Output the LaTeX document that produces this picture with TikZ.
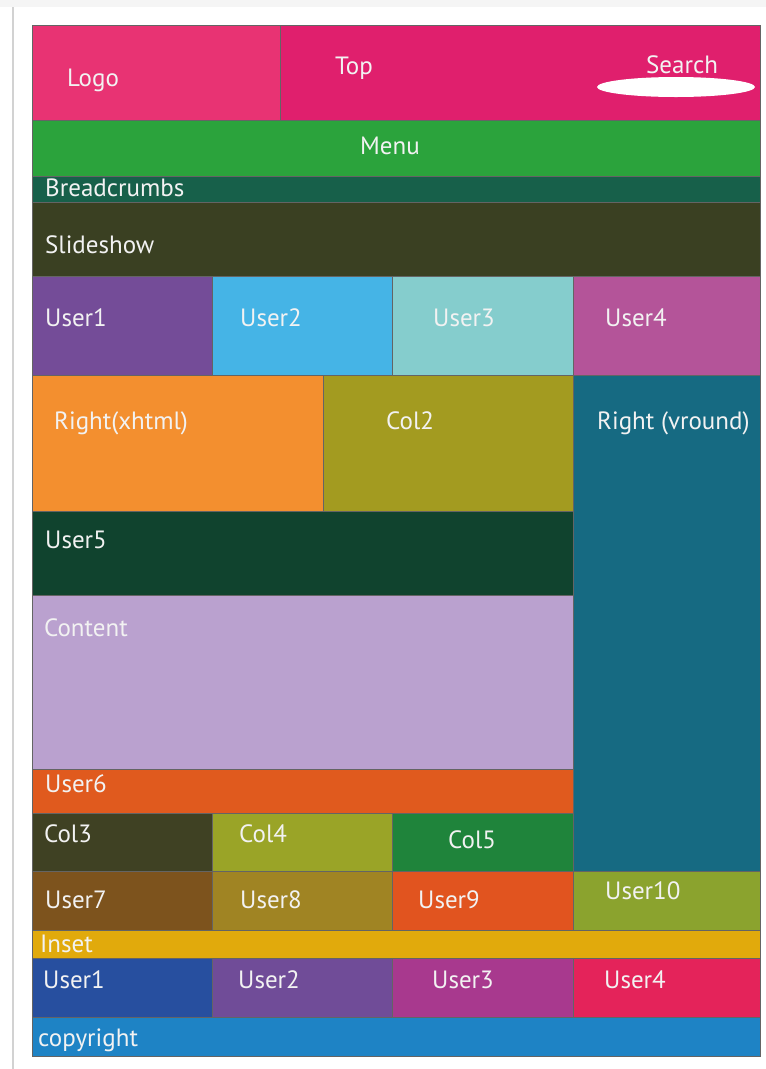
\documentclass[tikz,border=0pt]{standalone}
\usepackage{fontspec}
\setmainfont{PT Sans}
\definecolor{cLogo}{RGB}{232,51,115}
\definecolor{cTop}{RGB}{224,31,109}
\definecolor{cMenu}{RGB}{43,163,60}
\definecolor{cBread}{RGB}{23,96,74}
\definecolor{cSlide}{RGB}{58,64,34}
\definecolor{cUa}{RGB}{116,76,152}
\definecolor{cUb}{RGB}{69,180,230}
\definecolor{cUc}{RGB}{133,205,205}
\definecolor{cUd}{RGB}{180,84,153}
\definecolor{cRx}{RGB}{243,143,47}
\definecolor{cColb}{RGB}{163,155,32}
\definecolor{cRv}{RGB}{22,106,130}
\definecolor{cUe}{RGB}{16,67,46}
\definecolor{cCont}{RGB}{186,161,207}
\definecolor{cUf}{RGB}{224,90,30}
\definecolor{cColc}{RGB}{63,65,35}
\definecolor{cCold}{RGB}{154,164,39}
\definecolor{cCole}{RGB}{31,132,59}
\definecolor{cUg}{RGB}{125,83,29}
\definecolor{cUh}{RGB}{160,132,35}
\definecolor{cUi}{RGB}{225,84,31}
\definecolor{cUj}{RGB}{139,163,46}
\definecolor{cInset}{RGB}{225,170,12}
\definecolor{cBa}{RGB}{39,79,159}
\definecolor{cBb}{RGB}{112,76,152}
\definecolor{cBc}{RGB}{168,57,142}
\definecolor{cBd}{RGB}{228,35,90}
\definecolor{cCopy}{RGB}{30,131,197}
\definecolor{cEdge}{RGB}{100,100,100}
\definecolor{cTxt}{RGB}{242,242,242}
\tikzset{
  blk/.style={draw=cEdge, line width=1pt},
  lbl/.style={anchor=base west, inner sep=0pt, text=cTxt, font=\fontsize{25}{29}\selectfont},
}
\begin{document}
\begin{tikzpicture}[x=1pt,y=-1pt]
\useasboundingbox (0,0) rectangle (766,1069);
\fill[white] (0,0) rectangle (766,1069);
\fill[gray!8] (0,0) rectangle (766,7);
\draw[gray!35, line width=2pt] (13,7) -- (13,1069);
% header
\filldraw[blk, fill=cLogo] (32,25) rectangle (280,120);
\filldraw[blk, fill=cTop] (280,25) rectangle (760,120);
\fill[white] (676,87) ellipse [x radius=79, y radius=10];
\filldraw[blk, fill=cMenu] (32,120) rectangle (760,176);
\filldraw[blk, fill=cBread] (32,176) rectangle (760,202);
\filldraw[blk, fill=cSlide] (32,202) rectangle (760,276);
% user row 1-4
\filldraw[blk, fill=cUa] (32,276) rectangle (212,375);
\filldraw[blk, fill=cUb] (212,276) rectangle (392,375);
\filldraw[blk, fill=cUc] (392,276) rectangle (573,375);
\filldraw[blk, fill=cUd] (573,276) rectangle (760,375);
% middle
\filldraw[blk, fill=cRx] (32,375) rectangle (323,511);
\filldraw[blk, fill=cColb] (323,375) rectangle (573,511);
\filldraw[blk, fill=cRv] (573,375) rectangle (760,871);
\filldraw[blk, fill=cUe] (32,511) rectangle (573,595);
\filldraw[blk, fill=cCont] (32,595) rectangle (573,769);
\filldraw[blk, fill=cUf] (32,769) rectangle (573,813);
\filldraw[blk, fill=cColc] (32,813) rectangle (212,871);
\filldraw[blk, fill=cCold] (212,813) rectangle (392,871);
\filldraw[blk, fill=cCole] (392,813) rectangle (573,871);
% user 7-10
\filldraw[blk, fill=cUg] (32,871) rectangle (212,930);
\filldraw[blk, fill=cUh] (212,871) rectangle (392,930);
\filldraw[blk, fill=cUi] (392,871) rectangle (573,930);
\filldraw[blk, fill=cUj] (573,871) rectangle (760,930);
\filldraw[blk, fill=cInset] (32,930) rectangle (760,958);
% bottom users
\filldraw[blk, fill=cBa] (32,958) rectangle (212,1017);
\filldraw[blk, fill=cBb] (212,958) rectangle (392,1017);
\filldraw[blk, fill=cBc] (392,958) rectangle (573,1017);
\filldraw[blk, fill=cBd] (573,958) rectangle (760,1017);
\filldraw[blk, fill=cCopy] (32,1017) rectangle (760,1056);
% labels
\node[lbl] (tLogo) at (67,86) {Logo};
\node[lbl] (tTop) at (335,74) {Top};
\node[lbl] (tSearch) at (646,73) {Search};
\node[lbl] (tMenu) at (360,154) {Menu};
\node[lbl] (tBread) at (45,196) {Breadcrumbs};
\node[lbl] (tSlide) at (45,253) {Slideshow};
\node[lbl] (tUa) at (45,326) {User1};
\node[lbl] (tUb) at (240,326) {User2};
\node[lbl] (tUc) at (433,326) {User3};
\node[lbl] (tUd) at (605,326) {User4};
\node[lbl] (tRx) at (54,429) {Right(xhtml)};
\node[lbl] (tColb) at (386,429) {Col2};
\node[lbl] (tRv) at (597,429) {Right (vround)};
\node[lbl] (tUe) at (45,548) {User5};
\node[lbl] (tCont) at (44,636) {Content};
\node[lbl] (tUf) at (45,792) {User6};
\node[lbl] (tColc) at (44,842) {Col3};
\node[lbl] (tCold) at (239,842) {Col4};
\node[lbl] (tCole) at (448,848) {Col5};
\node[lbl] (tUg) at (45,908) {User7};
\node[lbl] (tUh) at (240,908) {User8};
\node[lbl] (tUi) at (418,908) {User9};
\node[lbl] (tUj) at (605,899) {User10};
\node[lbl] (tInset) at (40,952) {Inset};
\node[lbl] (tBa) at (43,988) {User1};
\node[lbl] (tBb) at (238,988) {User2};
\node[lbl] (tBc) at (432,988) {User3};
\node[lbl] (tBd) at (604,988) {User4};
\node[lbl] (tCopy) at (38,1046) {copyright};
\end{tikzpicture}
\end{document}
